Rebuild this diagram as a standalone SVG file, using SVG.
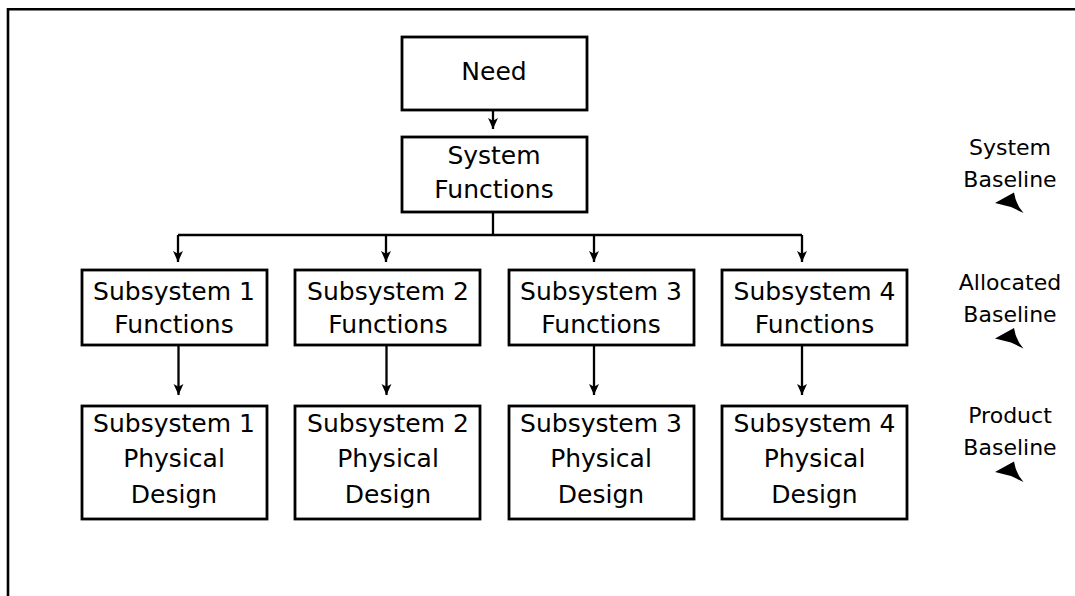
<svg xmlns="http://www.w3.org/2000/svg" width="1075" height="596" viewBox="0 0 1075 596">
  <style>
    .box { fill: #fff; stroke: #000; stroke-width: 2.8; }
    .lbl { font-family: "DejaVu Sans", "Liberation Sans", sans-serif; font-size: 25px; fill: #000; text-anchor: middle; }
    .side { font-family: "DejaVu Sans", "Liberation Sans", sans-serif; font-size: 22px; fill: #000; text-anchor: middle; }
    .wire { fill: none; stroke: #000; stroke-width: 2.3; }
    .frame { fill: none; stroke: #000; stroke-width: 2.6; }
    .pointer { fill: #000; }
  </style>
  <defs>
    <marker id="head" viewBox="0 0 10 10" refX="10" refY="5" markerWidth="11" markerHeight="11" markerUnits="userSpaceOnUse" orient="auto">
      <path d="M0,0.5 L10,5 L0,9.5 L2.5,5 Z" fill="#000"/>
    </marker>
  </defs>

  <!-- outer frame (top and left edges only) -->
  <path class="frame" d="M8,596 L8,9.3 L1075,9.3"/>

  <!-- nodes -->
  <g id="need">
    <rect class="box" x="402" y="37" width="185" height="73"/>
    <text class="lbl" x="494" y="80">Need</text>
  </g>
  <g id="system-functions">
    <rect class="box" x="402" y="137" width="185" height="75"/>
    <text class="lbl" x="494" y="164">System</text>
    <text class="lbl" x="494" y="198">Functions</text>
  </g>

  <g id="sub1-functions">
    <rect class="box" x="82" y="270" width="185" height="75"/>
    <text class="lbl" x="174" y="299.5">Subsystem 1</text>
    <text class="lbl" x="174" y="333">Functions</text>
  </g>
  <g id="sub2-functions">
    <rect class="box" x="295" y="270" width="185" height="75"/>
    <text class="lbl" x="388" y="299.5">Subsystem 2</text>
    <text class="lbl" x="388" y="333">Functions</text>
  </g>
  <g id="sub3-functions">
    <rect class="box" x="509" y="270" width="185" height="75"/>
    <text class="lbl" x="601" y="299.5">Subsystem 3</text>
    <text class="lbl" x="601" y="333">Functions</text>
  </g>
  <g id="sub4-functions">
    <rect class="box" x="722" y="270" width="185" height="75"/>
    <text class="lbl" x="814.5" y="299.5">Subsystem 4</text>
    <text class="lbl" x="814.5" y="333">Functions</text>
  </g>

  <g id="sub1-design">
    <rect class="box" x="82" y="406" width="185" height="113"/>
    <text class="lbl" x="174" y="432">Subsystem 1</text>
    <text class="lbl" x="174" y="467">Physical</text>
    <text class="lbl" x="174" y="503">Design</text>
  </g>
  <g id="sub2-design">
    <rect class="box" x="295" y="406" width="185" height="113"/>
    <text class="lbl" x="388" y="432">Subsystem 2</text>
    <text class="lbl" x="388" y="467">Physical</text>
    <text class="lbl" x="388" y="503">Design</text>
  </g>
  <g id="sub3-design">
    <rect class="box" x="509" y="406" width="185" height="113"/>
    <text class="lbl" x="601" y="432">Subsystem 3</text>
    <text class="lbl" x="601" y="467">Physical</text>
    <text class="lbl" x="601" y="503">Design</text>
  </g>
  <g id="sub4-design">
    <rect class="box" x="722" y="406" width="185" height="113"/>
    <text class="lbl" x="814.5" y="432">Subsystem 4</text>
    <text class="lbl" x="814.5" y="467">Physical</text>
    <text class="lbl" x="814.5" y="503">Design</text>
  </g>

  <!-- baseline labels with pointers -->
  <g id="system-baseline">
    <text class="side" x="1010" y="155">System</text>
    <text class="side" x="1010" y="187">Baseline</text>
    <path class="pointer" d="M995,203 L1014,192.5 Q1016,205 1023.5,213 L1011,207 Z"/>
  </g>
  <g id="allocated-baseline">
    <text class="side" x="1010" y="290">Allocated</text>
    <text class="side" x="1010" y="322">Baseline</text>
    <path class="pointer" d="M995,338.5 L1014,328 Q1016,340.5 1023.5,348.5 L1011,342.5 Z"/>
  </g>
  <g id="product-baseline">
    <text class="side" x="1010" y="423">Product</text>
    <text class="side" x="1010" y="455">Baseline</text>
    <path class="pointer" d="M995,472 L1014,461.5 Q1016,474 1023.5,482 L1011,476 Z"/>
  </g>

  <!-- connectors -->
  <g id="connectors">
    <line class="wire" x1="493" y1="110" x2="493" y2="129" marker-end="url(#head)"/>
    <path class="wire" d="M493,212 L493,235"/>
    <path class="wire" d="M178,235 L802,235"/>
    <line class="wire" x1="178" y1="235" x2="178" y2="262" marker-end="url(#head)"/>
    <line class="wire" x1="386" y1="235" x2="386" y2="262" marker-end="url(#head)"/>
    <line class="wire" x1="594" y1="235" x2="594" y2="262" marker-end="url(#head)"/>
    <line class="wire" x1="802" y1="235" x2="802" y2="262" marker-end="url(#head)"/>
    <line class="wire" x1="178.5" y1="345" x2="178.5" y2="395" marker-end="url(#head)"/>
    <line class="wire" x1="386.5" y1="345" x2="386.5" y2="395" marker-end="url(#head)"/>
    <line class="wire" x1="594" y1="345" x2="594" y2="395" marker-end="url(#head)"/>
    <line class="wire" x1="802" y1="345" x2="802" y2="395" marker-end="url(#head)"/>
  </g>
</svg>
